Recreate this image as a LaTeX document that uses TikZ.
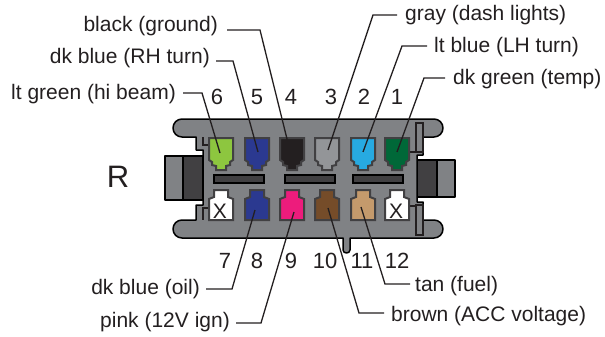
\documentclass[tikz,border=0pt]{standalone}
\usepackage{fontspec}
\setmainfont{Liberation Sans}
\definecolor{bodygray}{HTML}{808285}
\definecolor{cavgray}{HTML}{939598}
\definecolor{darkgray}{HTML}{414042}
\definecolor{inkblack}{HTML}{231F20}
\definecolor{ltgreen}{HTML}{8DC63F}
\definecolor{dkblue}{HTML}{2B3990}
\definecolor{pinkpin}{HTML}{ED1C7C}
\definecolor{brownpin}{HTML}{754C29}
\definecolor{tanpin}{HTML}{C49A6C}
\definecolor{ltblue}{HTML}{27AAE1}
\definecolor{dkgreen}{HTML}{006838}
\newcommand{\cavup}[3]{\path[cavity,fill=#3] (#1,#2) -- ++(24,0) -- ++(0,22) -- ++(-3,2) -- ++(0,3) -- ++(-4,1) -- ++(0,4) -- ++(-10,0) -- ++(0,-4) -- ++(-4,-1) -- ++(0,-3) -- ++(-3,-2) -- cycle;}
\newcommand{\cavdn}[3]{\path[cavity,fill=#3] (#1,#2) ++(5,0) -- ++(14,0) -- ++(0,7) -- ++(5,2) -- ++(0,21) -- ++(-24,0) -- ++(0,-21) -- ++(5,-2) -- cycle;}
\tikzset{
  cavity/.style={draw=darkgray,line width=2pt,line join=miter},
  outline/.style={draw=black,line width=1.5pt,line join=round},
  thinline/.style={draw=inkblack,line width=1.2pt},
  leader/.style={draw=inkblack,line width=1.3pt,line join=miter},
  slot/.style={draw=black,line width=1.2pt,fill=darkgray},
  lab/.style={font=\fontsize{21}{23}\selectfont,text=inkblack,inner sep=0pt},
  num/.style={font=\fontsize{22}{24}\selectfont,text=inkblack,inner sep=0pt},
  xmark/.style={font=\fontsize{21}{21}\selectfont,text=inkblack,inner sep=0pt}
}
\begin{document}
\begin{tikzpicture}[x=1pt,y=-1pt]
\useasboundingbox (0,0) rectangle (605,337);
% connectors
\path[outline,fill=bodygray] (165,156) rectangle (203,200);
\path[outline,fill=darkgray] (183,156) rectangle (203,200);
\path[outline,fill=bodygray] (437,160) rectangle (455,197);
\path[outline,fill=darkgray] (417,160) rectangle (437,197);
% body
\path[outline,fill=bodygray] (182,119) -- (434,119) .. controls (439,119) and (443,123) .. (443,128) .. controls (443,133) and (439,137) .. (434,137)
  -- (423,137) -- (423,155) -- (417,155) -- (417,202) -- (423,202) -- (423,220) -- (434,220)
  .. controls (439,220) and (443,224) .. (443,229) .. controls (443,234) and (439,238) .. (434,238)
  -- (350,238) -- (350,250) .. controls (350,254) and (343,254) .. (343,250) -- (343,238) -- (182,238)
  .. controls (177,238) and (173,234) .. (173,229) .. controls (173,224) and (177,220) .. (182,220)
  -- (196,220) -- (196,205) -- (203,205) -- (203,150) -- (196,150) -- (196,137) -- (182,137)
  .. controls (177,137) and (173,133) .. (173,128) .. controls (173,123) and (177,119) .. (182,119) -- cycle;
% link lines and side slots
\path[thinline] (203,137) -- (203,145) -- (208,145);
\path[thinline] (208,208) -- (203,208) -- (203,220);
\path[thinline,fill=bodygray] (416,123) rectangle (423,152);
\path[thinline,fill=bodygray] (416,205) rectangle (423,235);
\path[thinline] (409,152) -- (416,152);
\path[thinline] (409,206) -- (416,206);
% slots
\path[slot] (214,175) rectangle (264,183);
\path[slot] (285,175) rectangle (335,183);
\path[slot] (353,175) rectangle (403,183);
% cavities
\cavup{209}{138}{ltgreen}
\cavup{245}{138}{dkblue}
\cavup{280}{138}{inkblack}
\cavup{315}{138}{cavgray}
\cavup{351}{138}{ltblue}
\cavup{385}{138}{dkgreen}
\cavdn{209}{190}{white}
\cavdn{245}{190}{dkblue}
\cavdn{280}{190}{pinkpin}
\cavdn{315}{190}{brownpin}
\cavdn{351}{190}{tanpin}
\cavdn{385}{190}{white}
\node[xmark] (x7) at (220,211) {X};
\node[xmark] (x12) at (396,211) {X};
% text
\node[font=\fontsize{31}{33}\selectfont,text=inkblack,inner sep=0pt] (rr) at (118,177) {R};
\node[num] (n6) at (217,97) {6};
\node[num] (n5) at (257,97) {5};
\node[num] (n4) at (291,97) {4};
\node[num] (n3) at (331,97) {3};
\node[num] (n2) at (364,97) {2};
\node[num] (n1) at (397,97) {1};
\node[num] (n7) at (225,261) {7};
\node[num] (n8) at (257,261) {8};
\node[num] (n9) at (291,261) {9};
\node[num] (n10) at (325,261) {10};
\node[num] (n11) at (362,261) {11};
\node[num] (n12) at (397,261) {12};
\node[lab,anchor=east] (l6) at (176,94) {lt green (hi beam)};
\node[lab,anchor=east] (l5) at (210,58) {dk blue (RH turn)};
\node[lab,anchor=east] (l4) at (218,26) {black (ground)};
\node[lab,anchor=west] (l3) at (405,15) {gray (dash lights)};
\node[lab,anchor=west] (l2) at (434,47) {lt blue (LH turn)};
\node[lab,anchor=west] (l1) at (453,79) {dk green (temp)};
\node[lab,anchor=east] (l8) at (200,289) {dk blue (oil)};
\node[lab,anchor=east] (l9) at (230,322) {pink (12V ign)};
\node[lab,anchor=west] (l11) at (415,286) {tan (fuel)};
\node[lab,anchor=west] (l10) at (391,316) {brown (ACC voltage)};
% leader coordinates
\coordinate (p6) at (220,153); \coordinate (b6) at (202,93); \coordinate (e6) at (183,93);
\coordinate (p5) at (258,152); \coordinate (b5) at (233,61); \coordinate (e5) at (216,61);
\coordinate (p4) at (289,147); \coordinate (b4) at (260,30); \coordinate (e4) at (227,30);
\coordinate (p3) at (328,150); \coordinate (b3) at (373,15); \coordinate (e3) at (397,15);
\coordinate (p2) at (363,152); \coordinate (b2) at (402,46); \coordinate (e2) at (427,46);
\coordinate (p1) at (397,152); \coordinate (b1) at (424,78); \coordinate (e1) at (445,78);
\coordinate (p8) at (255,210); \coordinate (b8) at (232,289); \coordinate (e8) at (206,289);
\coordinate (p9) at (294,212); \coordinate (b9) at (261,323); \coordinate (e9) at (236,323);
\coordinate (p10) at (328,208); \coordinate (b10) at (359,313); \coordinate (e10) at (384,313);
\coordinate (p11) at (361,207); \coordinate (b11) at (385,284); \coordinate (e11) at (410,284);
\foreach \k in {6,5,4,3,2,1,8,9,10,11} {\path[leader] (p\k) -- (b\k) -- (e\k);}
\end{tikzpicture}
\end{document}
